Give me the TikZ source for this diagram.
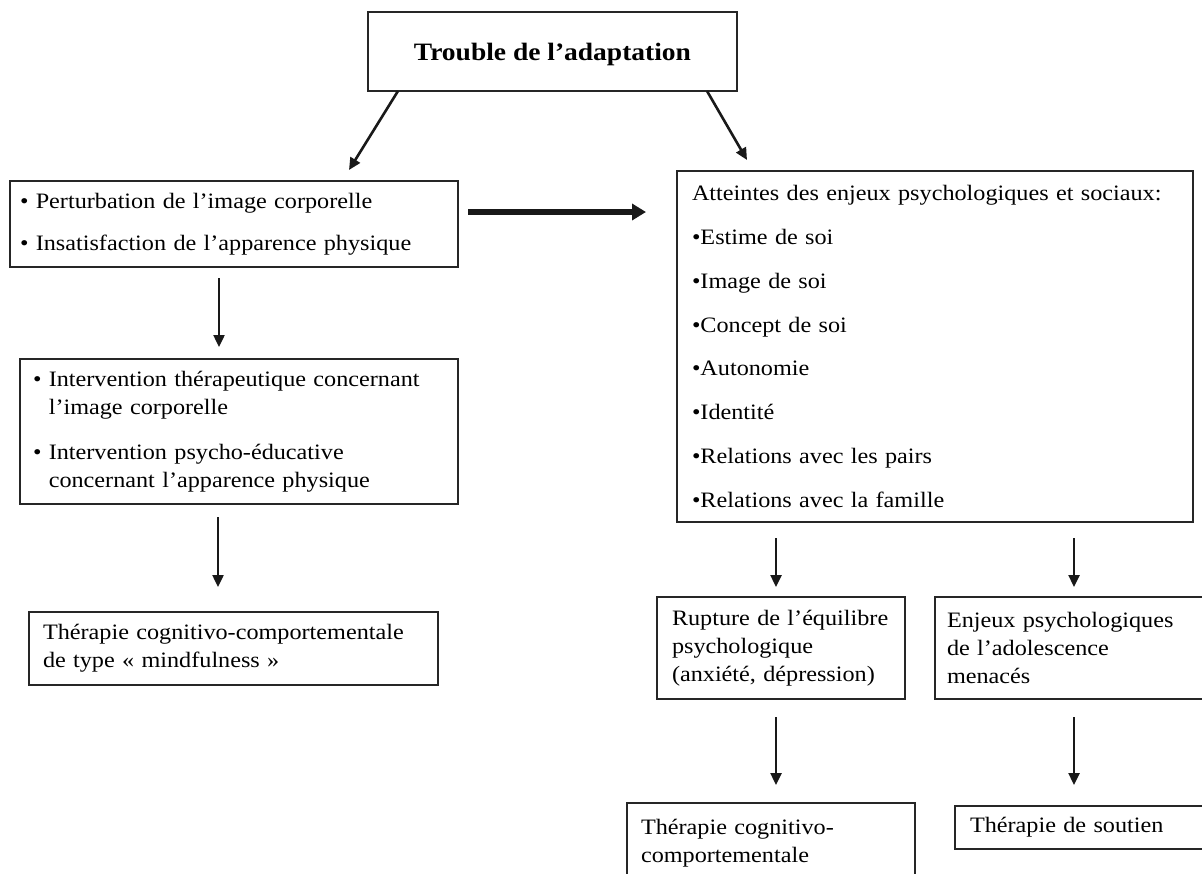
\documentclass[tikz,border=0pt]{standalone}
\usepackage{fontspec}
\setmainfont{Liberation Serif}[FakeStretch=1.1]
\usetikzlibrary{arrows.meta,calc}

\tikzset{
  box/.style={draw=black!85, line width=1.4pt, anchor=north west, outer sep=0pt,
    inner xsep=0pt, inner ysep=0pt, align=left,
    font=\fontsize{22}{28}\selectfont, execute at begin node={\leftskip=#1}},
  box/.default=14pt,
  titlebox/.style={draw=black!85, line width=1.4pt, anchor=north west, outer sep=0pt,
    inner sep=0pt, text depth=0pt, font=\fontsize{25}{30}\selectfont\bfseries},
  arr/.style={line width=2.4pt, black!90, -{Triangle[length=12pt,width=11pt]}},
  bigarr/.style={line width=6pt, black!90, -{Triangle[length=14pt,width=16pt]}},
}

\begin{document}
\begin{tikzpicture}[x=1pt,y=-1pt]
    \clip (0,0) rectangle (1202,873);

    % Title
    \node[titlebox, minimum width=369pt, minimum height=79pt] (trouble) at (368,12) {Trouble de l'adaptation};

    % Left column
    \node[box=10pt, text width=448, minimum height=86] (image) at (10,181)
        {\textbullet\ Perturbation de l'image corporelle\\[14pt]
         \textbullet\ Insatisfaction de l'apparence physique};
    \node[box=13pt, text width=438, minimum height=145] (interv) at (20,359)
        {\textbullet\ Intervention thérapeutique concernant\\
         \phantom{\textbullet\ }l'image corporelle\\[17pt]
         \textbullet\ Intervention psycho-éducative\\
         \phantom{\textbullet\ }concernant l'apparence physique};
    \node[box, text width=409, minimum height=73] (mindful) at (29,612)
        {Thérapie cognitivo-comportementale\\de type « mindfulness »};

    % Right column
    \node[box=15pt, text width=516, minimum height=351] (atteintes) at (677,171)
        {Atteintes des enjeux psychologiques et sociaux:\\[15.8pt]
         \textbullet Estime de soi\\[15.8pt]
         \textbullet Image de soi\\[15.8pt]
         \textbullet Concept de soi\\[15.8pt]
         \textbullet Autonomie\\[15.8pt]
         \textbullet Identité\\[15.8pt]
         \textbullet Relations avec les pairs\\[15.8pt]
         \textbullet Relations avec la famille};
    \node[box=15pt, text width=248, minimum height=102] (rupture) at (657,597)
        {Rupture de l'équilibre\\psychologique\\(anxiété, dépression)};
    \node[box=12pt, text width=300, minimum height=102] (enjeux) at (935,597)
        {Enjeux psychologiques\\de l'adolescence\\menacés};
    \node[box, text width=288, minimum height=80] (tcc) at (627,803)
        {Thérapie cognitivo-\\comportementale};
    \node[box=15pt, text width=300, minimum height=43] (soutien) at (955,806)
        {Thérapie de soutien};

    % Arrows
    \draw[arr, line width=2.6pt] ($(trouble.south west)+(30,0)$) -- ($(image.north west)+(339,-11)$);
    \draw[arr, line width=2.6pt] ($(trouble.south east)+(-30,0)$) -- ($(atteintes.north west)+(70,-11)$);
    \draw[bigarr] ($(image.north east)+(10,31)$) -- ($(atteintes.north west)+(-31,41)$);
    \draw[arr] ($(image.south west)+(209,11)$) -- ($(interv.north west)+(199,-12)$);
    \draw[arr] ($(interv.south west)+(198,13)$) -- ($(mindful.north west)+(189,-25)$);
    \draw[arr] ($(atteintes.south west)+(99,16)$) -- ($(rupture.north west)+(119,-10)$);
    \draw[arr] ($(atteintes.south west)+(397,16)$) -- ($(enjeux.north west)+(139,-10)$);
    \draw[arr] ($(rupture.south west)+(119,18)$) -- ($(tcc.north west)+(149,-18)$);
    \draw[arr] ($(enjeux.south west)+(139,18)$) -- ($(soutien.north west)+(119,-21)$);
\end{tikzpicture}
\end{document}
